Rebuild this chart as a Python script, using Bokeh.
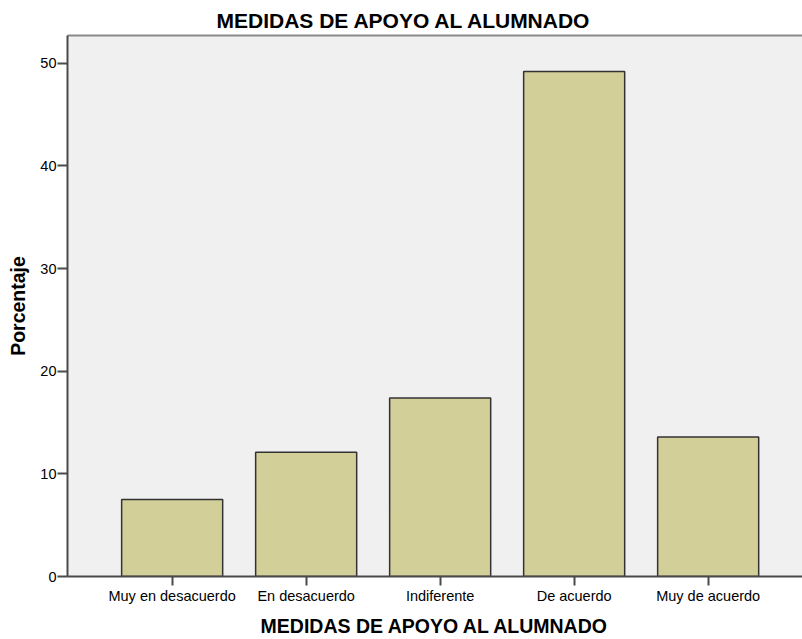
from bokeh.plotting import figure
from bokeh.models import Range1d, FixedTicker, LinearAxis
from bokeh.embed import file_html
from bokeh.resources import INLINE

categories = ["Muy en desacuerdo", "En desacuerdo", "Indiferente", "De acuerdo", "Muy de acuerdo"]
percentages = [7.5, 12.1, 17.4, 49.2, 13.6]
y_ticks = [0, 10, 20, 30, 40, 50]
title_text = "MEDIDAS DE APOYO AL ALUMNADO"
x_label = "MEDIDAS DE APOYO AL ALUMNADO"
y_label = "Porcentaje"

positions = list(range(1, len(categories) + 1))

FONT = "Liberation Sans"
AXIS_COLOR = "#4a4a4a"

p = figure(width=802, height=639, output_backend="svg", toolbar_location=None,
           x_range=Range1d(0.219, 5.704), y_range=Range1d(0, 52.7),
           min_border_left=67, min_border_right=0, min_border_top=35, min_border_bottom=62)
p.background_fill_color = "#F0F0F0"
p.border_fill_color = "white"
p.outline_line_color = None
p.grid.visible = False

p.vbar(x=positions, top=percentages, width=0.754, bottom=0,
       fill_color="#D3CF98", line_color="#333333", line_width=1.5)

p.title.text = title_text
p.title.align = "left"
p.title.offset = 149
p.title.text_font = FONT
p.title.text_font_size = "21px"
p.title.text_font_style = "bold"
p.title.text_color = "black"
p.title.standoff = 8

xa = p.xaxis[0]
xa.ticker = FixedTicker(ticks=positions)
xa.major_label_overrides = {pos: c for pos, c in zip(positions, categories)}
xa.axis_label = x_label
xa.axis_label_text_font = FONT
xa.axis_label_text_font_size = "19.5px"
xa.axis_label_text_font_style = "bold"
xa.axis_label_text_color = "black"
xa.axis_label_standoff = 8
xa.major_label_text_font = FONT
xa.major_label_text_font_size = "14.5px"
xa.major_label_text_color = "black"
xa.major_label_standoff = 2
xa.major_tick_in = 0
xa.major_tick_out = 9
xa.minor_tick_out = 0
xa.minor_tick_in = 0
xa.axis_line_color = AXIS_COLOR
xa.axis_line_width = 2
xa.major_tick_line_color = AXIS_COLOR
xa.major_tick_line_width = 2

ya = p.yaxis[0]
ya.ticker = FixedTicker(ticks=y_ticks)
ya.axis_label = y_label
ya.axis_label_text_font = FONT
ya.axis_label_text_font_size = "19.5px"
ya.axis_label_text_font_style = "bold"
ya.axis_label_text_color = "black"
ya.axis_label_standoff = 8
ya.major_label_text_font = FONT
ya.major_label_text_font_size = "14.5px"
ya.major_label_text_color = "black"
ya.major_label_standoff = 1
ya.major_tick_in = 0
ya.major_tick_out = 10
ya.minor_tick_out = 0
ya.minor_tick_in = 0
ya.axis_line_color = AXIS_COLOR
ya.axis_line_width = 2
ya.major_tick_line_color = AXIS_COLOR
ya.major_tick_line_width = 2

top = LinearAxis(ticker=FixedTicker(ticks=[]), axis_line_color="#8a8a8a", axis_line_width=2,
                 major_tick_out=0, major_tick_in=0, minor_tick_out=0, minor_tick_in=0,
                 major_label_text_font_size="0px", major_label_standoff=0)
p.add_layout(top, "above")

open("out.html", "w").write(file_html(p, INLINE))
